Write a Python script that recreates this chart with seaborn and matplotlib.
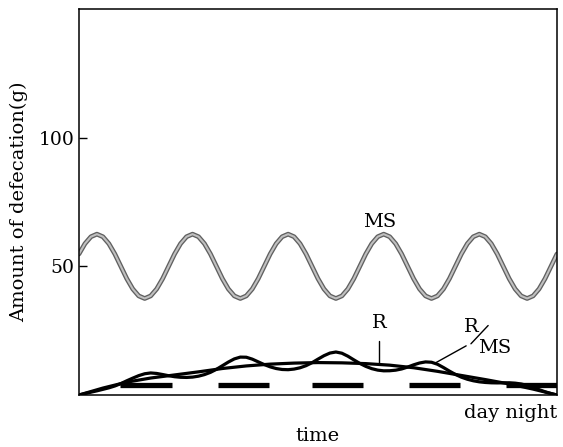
import numpy as np
import pandas as pd
import matplotlib
matplotlib.use("Agg")
import matplotlib.pyplot as plt
import seaborn as sns

# sample times (days), 1/16 day apart
days = np.linspace(0, 5, 81)

# MS curve
ms = [54.8, 58.8, 61.5, 62.5, 61.5, 58.8, 54.8, 50.0, 45.2, 41.2, 38.5, 37.5, 38.5, 41.2, 45.2, 50.0,
      54.8, 58.8, 61.5, 62.5, 61.5, 58.8, 54.8, 50.0, 45.2, 41.2, 38.5, 37.5, 38.5, 41.2, 45.2, 50.0,
      54.8, 58.8, 61.5, 62.5, 61.5, 58.8, 54.8, 50.0, 45.2, 41.2, 38.5, 37.5, 38.5, 41.2, 45.2, 50.0,
      54.8, 58.8, 61.5, 62.5, 61.5, 58.8, 54.8, 50.0, 45.2, 41.2, 38.5, 37.5, 38.5, 41.2, 45.2, 50.0,
      54.8, 58.8, 61.5, 62.5, 61.5, 58.8, 54.8, 50.0, 45.2, 41.2, 38.5, 37.5, 38.5, 41.2, 45.2, 50.0,
      54.8]

# R/MS curve
r_ms = [0.0, 0.58, 1.10, 1.62, 2.20, 2.79, 3.51, 4.43, 5.53, 6.56, 7.53, 8.26, 8.57, 8.38, 7.96, 7.50,
        7.11, 6.89, 6.83, 6.96, 7.32, 7.93, 8.80, 9.98, 11.39, 12.81, 14.03, 14.73, 14.68, 13.94, 12.88, 11.83,
        10.94, 10.29, 9.92, 9.84, 10.08, 10.58, 11.40, 12.55, 13.94, 15.27, 16.30, 16.71, 16.24, 15.09, 13.66, 12.28,
        11.13, 10.24, 9.67, 9.40, 9.43, 9.65, 10.12, 10.85, 11.72, 12.44, 12.86, 12.73, 11.95, 10.68, 9.29, 8.00,
        6.93, 6.12, 5.53, 5.12, 4.88, 4.74, 4.70, 4.73, 4.76, 4.61, 4.29, 3.73, 2.99, 2.10, 1.27, 0.58,
        0.0]

# R curve, quarter-day readings
r_days = np.linspace(0, 5, 21)
r_vals = [0.0, 2.7, 5.0, 6.6, 7.8, 9.0, 10.3, 11.3, 12.0, 12.4, 12.6, 12.5, 12.2,
          11.6, 10.6, 9.2, 7.6, 6.0, 4.3, 2.3, 0.0]

# night periods (days)
night_start = [0.43, 1.45, 2.44, 3.45, 4.47]
night_end = [0.97, 1.99, 2.97, 3.99, 5.0]
night_level = 3.7

sns.set_style("white")
plt.rcParams['font.family'] = ['DejaVu Serif']
plt.rcParams['text.color'] = 'black'
plt.rcParams['axes.labelcolor'] = 'black'
plt.rcParams['ytick.color'] = 'black'

fig = plt.figure(figsize=(5.63, 4.47), dpi=100)
ax = fig.add_axes([0.1403, 0.1163, 0.849, 0.8637])

df_ms = pd.DataFrame({'day': days, 'val': ms})
df_rms = pd.DataFrame({'day': days, 'val': r_ms})
df_r = pd.DataFrame({'day': r_days, 'val': r_vals})

sns.lineplot(data=df_ms, x='day', y='val', color='#606060', lw=3.4, ax=ax)
sns.lineplot(data=df_ms, x='day', y='val', color='#c0c0c0', lw=1.5, ax=ax)
sns.lineplot(data=df_rms, x='day', y='val', color='black', lw=2.3, ax=ax)
sns.lineplot(data=df_r, x='day', y='val', color='black', lw=2.3, ax=ax)
ax.hlines([night_level] * len(night_start), night_start, night_end, color='black', lw=3.8)

ax.set_xlim(0, 5)
ax.set_ylim(0, 150)
ax.set_xticks([])
ax.set_yticks([50, 100])
ax.tick_params(axis='y', direction='in', length=6, width=1, labelsize=13.5, left=True)
for s in ax.spines.values():
    s.set_color('black')
    s.set_linewidth(1.1)

ax.set_ylabel('Amount of defecation(g)', fontsize=14, labelpad=7)
ax.set_xlabel('time', fontsize=14, labelpad=23)
ax.text(1.0, -0.022, 'day night', transform=ax.transAxes, ha='right', va='top', fontsize=14)

# curve labels
ax.text(3.14, 67.2, 'MS', ha='center', va='center', fontsize=14)
ax.text(3.14, 28.1, 'R', ha='center', va='center', fontsize=14)
ax.plot([3.14, 3.14], [21.1, 12.1], color='black', lw=1)
ax.text(4.10, 26.6, 'R', ha='center', va='center', fontsize=14)
ax.plot([4.28, 4.10], [27.0, 19.9], color='black', lw=1)
ax.text(4.35, 18.4, 'MS', ha='center', va='center', fontsize=14)
ax.plot([4.05, 3.73], [19.1, 12.5], color='black', lw=1)

fig.savefig('out.png', dpi=100)
